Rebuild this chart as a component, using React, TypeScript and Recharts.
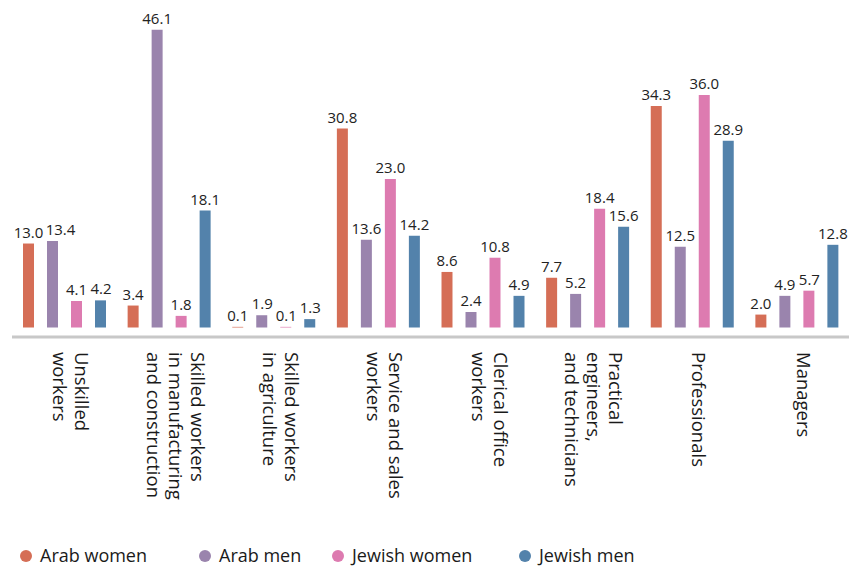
import React from "react";
import { BarChart, Bar, XAxis, YAxis, LabelList } from "recharts";

// Occupation categories (each label broken into the lines shown under the axis)
const categories: string[][] = [
    ["Unskilled", "workers"],
    ["Skilled workers", "in manufacturing", "and construction"],
    ["Skilled workers", "in agriculture"],
    ["Service and sales", "workers"],
    ["Clerical office", "workers"],
    ["Practical", "engineers,", "and technicians"],
    ["Professionals"],
    ["Managers"],
];

const arabWomen = [13.0, 3.4, 0.1, 30.8, 8.6, 7.7, 34.3, 2.0];
const arabMen = [13.4, 46.1, 1.9, 13.6, 2.4, 5.2, 12.5, 4.9];
const jewishWomen = [4.1, 1.8, 0.1, 23.0, 10.8, 18.4, 36.0, 5.7];
const jewishMen = [4.2, 18.1, 1.3, 14.2, 4.9, 15.6, 28.9, 12.8];

const series = [
    { key: "arabWomen", name: "Arab women", color: "#d56e56", values: arabWomen },
    { key: "arabMen", name: "Arab men", color: "#9a84ad", values: arabMen },
    { key: "jewishWomen", name: "Jewish women", color: "#dd7bb0", values: jewishWomen },
    { key: "jewishMen", name: "Jewish men", color: "#5382ab", values: jewishMen },
];

const legendLeft = [26, 205, 338, 525];

const FONT = "'Open Sans', 'Noto Sans', sans-serif";
const Y_MIN = -1.47;
const Y_MAX = 49.92;
const PX_PER_UNIT = 6.46;

const data = categories.map((lines, i) => ({
    name: lines.join(" "),
    arabWomen: arabWomen[i],
    arabMen: arabMen[i],
    jewishWomen: jewishWomen[i],
    jewishMen: jewishMen[i],
}));

const CategoryTick = (props: any) => {
    const { x, y, index } = props;
    const lines = categories[index] || [];
    const pitch = 22;
    const n = lines.length;
    return (
        <g transform={`translate(${x},${y + 15}) rotate(90)`}>
            {lines.map((line, i) => (
                <text
                    key={i}
                    x={0}
                    y={(i - (n - 1) / 2) * pitch}
                    textAnchor="start"
                    fontSize={18.5}
                    fontFamily={FONT}
                    fill="#1a1a1a"
                >
                    {line}
                </text>
            ))}
        </g>
    );
};

const labelWidth = (v: number) => v.toFixed(1).length * 7.5;

// value label; nudged right when it would collide with the previous series' label
const makeLabel = (seriesIdx: number) => (props: any) => {
    const { x, y, width, value, index } = props;
    const v = Number(value);
    let shift = 0;
    if (seriesIdx > 0) {
        const prev = series[seriesIdx - 1].values[index];
        const dy = Math.abs(prev - v) * PX_PER_UNIT;
        const need = (labelWidth(prev) + labelWidth(v)) / 2 + 2;
        if (dy < 16 && need > 24) shift = need - 24;
    }
    return (
        <text
            x={x + width / 2 + shift}
            y={y - 6}
            textAnchor="middle"
            fontSize={15}
            fontFamily={FONT}
            fill="#222"
        >
            {v.toFixed(1)}
        </text>
    );
};

export default function App() {
    return (
        <div style={{ position: "absolute", left: 0, top: 0, width: 855, height: 568, background: "#fff" }}>
            <BarChart
                width={855}
                height={568}
                data={data}
                margin={{ top: 5, right: 6, left: 12, bottom: 0 }}
                barSize={11}
                barGap={13}
            >
                <XAxis
                    dataKey="name"
                    height={231}
                    interval={0}
                    tickLine={false}
                    tickSize={0}
                    tickMargin={0}
                    axisLine={{ stroke: "#c8c8c8", strokeWidth: 3 }}
                    tick={<CategoryTick />}
                />
                <YAxis hide type="number" domain={[Y_MIN, Y_MAX]} />
                {series.map((s, si) => (
                    <Bar key={s.key} dataKey={s.key} name={s.name} fill={s.color} isAnimationActive={false}>
                        <LabelList dataKey={s.key} content={makeLabel(si)} />
                    </Bar>
                ))}
            </BarChart>
            {series.map((s, i) => (
                <div
                    key={s.key}
                    style={{
                        position: "absolute",
                        left: legendLeft[i] - 6,
                        top: 543,
                        display: "flex",
                        alignItems: "center",
                        fontFamily: FONT,
                        fontSize: 18,
                        color: "#1a1a1a",
                        whiteSpace: "nowrap",
                    }}
                >
                    <span
                        style={{
                            width: 12,
                            height: 12,
                            borderRadius: 6,
                            background: s.color,
                            display: "inline-block",
                            marginRight: 8,
                            position: "relative",
                            top: 1,
                        }}
                    />
                    {s.name}
                </div>
            ))}
        </div>
    );
}
